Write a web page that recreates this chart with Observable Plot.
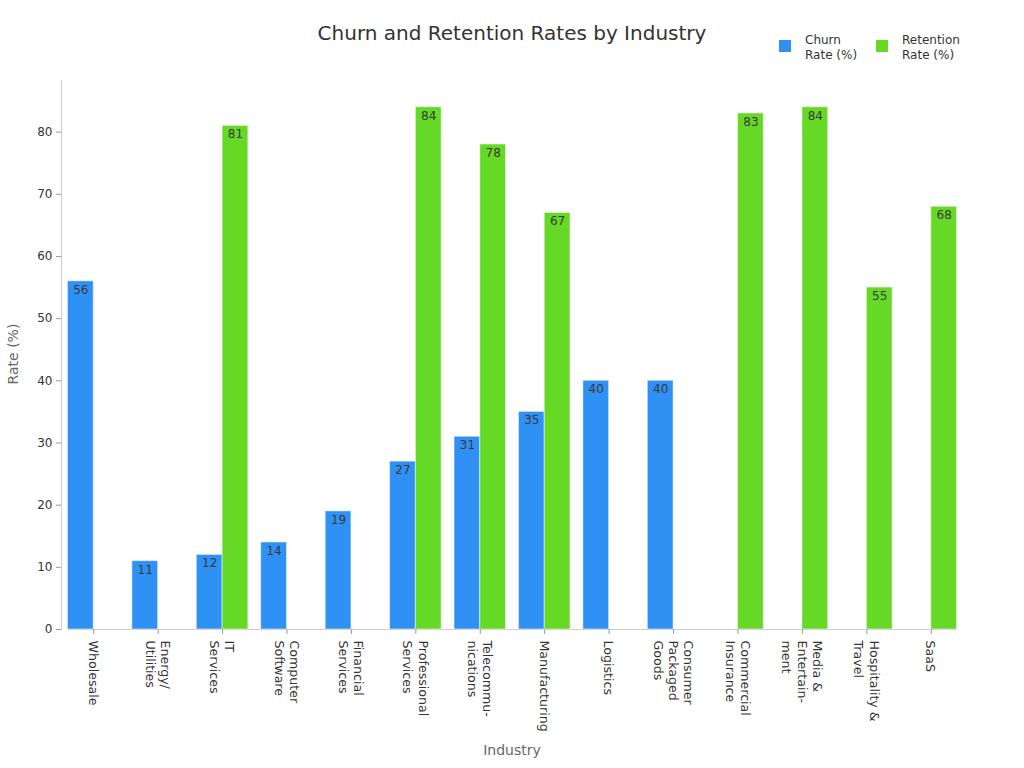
<!DOCTYPE html>
<html>
<head>
<meta charset="utf-8">
<script src="https://cdn.jsdelivr.net/npm/d3@7"></script>
<script src="https://cdn.jsdelivr.net/npm/@observablehq/plot@0.6"></script>
<style>
  html, body { margin: 0; padding: 0; background: #fff; }
  #wrap { position: relative; width: 1024px; height: 768px; font-family: "DejaVu Sans", sans-serif; }
  #title { position: absolute; left: 0; width: 1024px; top: 21px; text-align: center; font-size: 20px; color: #333; }
  .leg { position: absolute; top: 33px; font-size: 12px; color: #333; line-height: 15px; }
  .sw { position: absolute; width: 12px; height: 12px; top: 7px; }
  .lt { position: absolute; left: 26px; top: 0; white-space: nowrap; }
  #chart { position: absolute; left: 0; top: 0; }
  #ylab { position: absolute; left: 13px; top: 354px; font-size: 14px; color: #666; transform: translate(-50%, -50%) rotate(-90deg); white-space: nowrap; }
  #xlab { position: absolute; left: 0; width: 1024px; top: 742px; text-align: center; font-size: 14px; color: #666; }
</style>
</head>
<body>
<div id="wrap">
  <div id="chart"></div>
  <div id="title">Churn and Retention Rates by Industry</div>
  <div class="leg" style="left:779px"><div class="sw" style="background:#3091f5"></div><div class="lt">Churn<br>Rate (%)</div></div>
  <div class="leg" style="left:876px"><div class="sw" style="background:#66d926"></div><div class="lt">Retention<br>Rate (%)</div></div>
  <div id="ylab">Rate (%)</div>
  <div id="xlab">Industry</div>
</div>
<script>
const industries = [
  "Wholesale", "Energy/\nUtilities", "IT\nServices", "Computer\nSoftware", "Financial\nServices",
  "Professional\nServices", "Telecommu-\nnications", "Manufacturing", "Logistics",
  "Consumer\nPackaged\nGoods", "Commercial\nInsurance", "Media &\nEntertain-\nment",
  "Hospitality &\nTravel", "SaaS"
];
const churn = [56, 11, 12, 14, 19, 27, 31, 35, 40, 40, null, null, null, null];
const retention = [null, null, 81, null, null, 84, 78, 67, null, null, 83, 84, 55, 68];
const seriesNames = ["Churn", "Retention"];
const seriesColors = ["#3091f5", "#66d926"];
const yTicks = [0, 10, 20, 30, 40, 50, 60, 70, 80];

const data = [];
industries.forEach((ind, i) => {
  if (churn[i] != null) data.push({industry: ind, series: "Churn", value: churn[i]});
  if (retention[i] != null) data.push({industry: ind, series: "Retention", value: retention[i]});
});

const W = 1024, ML = 61, MR = 61;
const padOuter = 0.1, padInner = 0.2;
const step = (W - ML - MR) / (industries.length - padInner + 2 * padOuter);
const outerOffset = padOuter * step;

const chart = Plot.plot({
  width: W,
  height: 768,
  marginLeft: ML,
  marginRight: MR,
  marginTop: 80,
  marginBottom: 139,
  style: {fontFamily: "DejaVu Sans, sans-serif", fontSize: "12px", color: "#333", background: "transparent"},
  fx: {domain: industries, paddingInner: padInner, paddingOuter: padOuter, round: false, axis: null},
  x: {domain: seriesNames, padding: 0, round: false, axis: null},
  y: {domain: [0, 88.3], axis: null},
  color: {domain: seriesNames, range: seriesColors},
  marks: [
    Plot.frame({anchor: "left", facet: "super", stroke: "#cccccc", dx: -outerOffset}),
    Plot.frame({anchor: "bottom", facet: "super", stroke: "#cccccc"}),
    Plot.barY(data, {fx: "industry", x: "series", y: "value", fill: "series", stroke: "#ffffff", strokeOpacity: 0.5, strokeWidth: 1}),
    Plot.text(data, {fx: "industry", x: "series", y: "value", text: d => String(d.value), lineAnchor: "top", dy: 4, fill: "#383838", fontSize: 12}),
    Plot.axisY({ticks: yTicks, tickSize: 5, tickPadding: 4, stroke: "#999", label: null, fill: "#333", fontSize: 12, dx: -outerOffset}),
    Plot.axisFx({anchor: "bottom", tickRotate: 90, tickSize: 5, tickPadding: 6, stroke: "#999", label: null, fill: "#333", fontSize: 12.6, lineHeight: 1.2})
  ]
});
document.getElementById("chart").appendChild(chart);
</script>
</body>
</html>
